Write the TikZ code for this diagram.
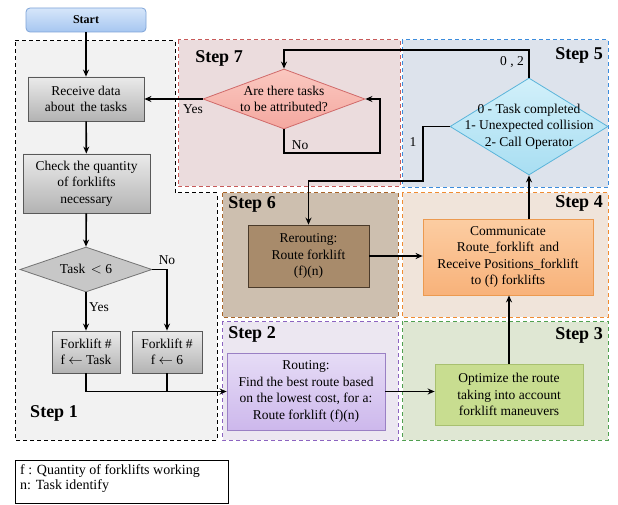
\documentclass[tikz,border=0pt]{standalone}
\usepackage{fontspec}
\setmainfont{Liberation Serif}
\usetikzlibrary{shapes.geometric,arrows.meta}
\definecolor{sonefill}{HTML}{F2F2F2}
\definecolor{ssevfill}{HTML}{EBDCDD}
\definecolor{ssevline}{HTML}{C85A5A}
\definecolor{sfivfill}{HTML}{DDE3EC}
\definecolor{sfivline}{HTML}{3C8CDC}
\definecolor{ssixfill}{HTML}{CDBFAF}
\definecolor{ssixline}{HTML}{A86428}
\definecolor{sfoufill}{HTML}{F0E4DA}
\definecolor{sfouline}{HTML}{F08C32}
\definecolor{stwofill}{HTML}{ECE7F1}
\definecolor{stwoline}{HTML}{8C64C0}
\definecolor{sthrfill}{HTML}{DFE7D3}
\definecolor{sthrline}{HTML}{50A050}
\definecolor{optfill}{HTML}{C8DD90}
\definecolor{optline}{HTML}{A8C070}
\definecolor{rerfill}{HTML}{A88B6B}
\definecolor{rerline}{HTML}{4A3A2A}
\definecolor{commtop}{HTML}{FCCDA2}
\definecolor{commbot}{HTML}{F8B27A}
\definecolor{commline}{HTML}{EC9A50}
\definecolor{routtop}{HTML}{E6DCF6}
\definecolor{routbot}{HTML}{CDB8EC}
\definecolor{routline}{HTML}{9A80C4}
\definecolor{fivtop}{HTML}{D2F0FA}
\definecolor{fivbot}{HTML}{A8DEF2}
\definecolor{fivline}{HTML}{5AB4DA}
\definecolor{sevtop}{HTML}{FAC8C0}
\definecolor{sevbot}{HTML}{F4A8A0}
\definecolor{sevline}{HTML}{D06A6A}
\definecolor{starttop}{HTML}{D6E6FA}
\definecolor{startbot}{HTML}{A6C6F0}
\definecolor{startline}{HTML}{7EA4D8}
\begin{document}
\begin{tikzpicture}[x=1pt,y=-1pt,
  font=\fontsize{13.5}{16.5}\selectfont,
  region/.style={draw=white, line width=1pt, postaction={draw=#1, dash pattern=on 4pt off 3pt, line width=1pt}},
  steplabel/.style={font=\fontsize{18}{20}\selectfont\bfseries, inner sep=0},
  flow/.style={line width=1.6pt, -{Stealth[length=7pt,width=6pt]}},
  plain/.style={line width=1.6pt},
  box/.style={draw, line width=0.8pt, inner sep=0, align=center},
  graybox/.style={box, draw=black!65, top color=black!8, bottom color=black!30},
  dia/.style={diamond, draw, line width=0.8pt, inner sep=0},
  lab/.style={inner sep=1pt}
]
\useasboundingbox (0,0) rectangle (618,505);
\fill[white] (0,0) rectangle (618,505);
% regions
\fill[sonefill] (15,41) -- (175,41) -- (175,193) -- (217,193) -- (217,440) -- (15,440) -- cycle;
\draw[region=black] (15,41) -- (175,41) -- (175,193) -- (217,193) -- (217,440) -- (15,440) -- cycle;
\fill[ssevfill] (178,40) rectangle (400,187);
\draw[region=ssevline] (178,40) rectangle (400,187);
\fill[sfivfill] (402,40) rectangle (608,188);
\draw[region=sfivline] (402,40) rectangle (608,188);
\fill[ssixfill] (222,193) rectangle (398,317);
\draw[region=ssixline] (222,193) rectangle (398,317);
\fill[sfoufill] (402,193) rectangle (608,317);
\draw[region=sfouline] (402,193) rectangle (608,317);
\fill[stwofill] (222,321) rectangle (398,440);
\draw[region=stwoline] (222,321) rectangle (398,440);
\fill[sthrfill] (402,321) rectangle (608,440);
\draw[region=sthrline] (402,321) rectangle (608,440);
% step labels
\node[steplabel] (l1) at (54,413) {Step 1};
\node[steplabel] (l2) at (252,334) {Step 2};
\node[steplabel] (l3) at (579,335) {Step 3};
\node[steplabel] (l4) at (579,203) {Step 4};
\node[steplabel] (l5) at (579,55) {Step 5};
\node[steplabel] (l6) at (252,204) {Step 6};
\node[steplabel] (l7) at (219,58) {Step 7};
% nodes
\node[box, rounded corners=4pt, draw=startline, top color=starttop, bottom color=startbot, minimum width=120, minimum height=24, font=\fontsize{12}{14}\selectfont\bfseries] (start) at (86,20) {Start};
\node[graybox, minimum width=116, minimum height=44] (recv) at (86,99) {Receive data\\about\, the tasks};
\node[graybox, minimum width=127, minimum height=59] (chk) at (86.5,183.5) {Check the quantity\\of forklifts\\necessary};
\node[dia, draw=black!55, fill=black!22, minimum width=132, minimum height=45] (dt) at (86,269.5) {};
\node[inner sep=0] (dtt) at (dt.center) {Task\, $<$ 6};
\node[graybox, minimum width=68, minimum height=42] (f1) at (86,352) {Forklift \#\\f $\leftarrow$ Task};
\node[graybox, minimum width=70, minimum height=42] (f2) at (167,352) {Forklift \#\\f $\leftarrow$ 6};
\node[dia, draw=sevline, top color=sevtop, bottom color=sevbot, minimum width=162, minimum height=60] (d7) at (284,99) {};
\node[inner sep=0, align=center] (d7t) at (d7.center) {Are there tasks\\to be attributed?};
\node[dia, draw=fivline, top color=fivtop, bottom color=fivbot, minimum width=158, minimum height=97] (d5) at (529,126.5) {};
\node[inner sep=0, align=center] (d5t) at (d5.center) {0 - Task completed\\1- Unexpected collision\\2- Call Operator};
\node[box, draw=rerline, fill=rerfill, minimum width=121, minimum height=62] (rer) at (308.5,256) {Rerouting:\\Route forklift\\(f)(n)};
\node[box, draw=commline, top color=commtop, bottom color=commbot, minimum width=170, minimum height=76] (comm) at (508,257) {Communicate\\Route\_forklift\, and\\Receive Positions\_forklift\\to (f) forklifts};
\node[box, draw=routline, top color=routtop, bottom color=routbot, minimum width=158, minimum height=77] (rout) at (306,391.5) {Routing:\\Find the best route based\\on the lowest cost, for a:\\Route forklift (f)(n)};
\node[box, draw=optline, fill=optfill, minimum width=148, minimum height=61] (opt) at (509,394.5) {Optimize the route\\taking into account\\forklift maneuvers};
% legend
\node[draw, line width=0.7pt, minimum width=213, minimum height=43, anchor=north west, inner sep=0] (leg) at (15,460) {};
\node[anchor=north west, align=left, inner sep=0, font=\fontsize{14}{15}\selectfont] (legt) at (20,464) {f : Quantity of forklifts working\\n: Task identify};
% coordinates
\coordinate (t1) at (284,50);
\coordinate (n1) at (380,153);
\coordinate (c1) at (423,181);
% connectors
\draw[flow] (start) -- (recv);
\draw[flow] (recv) -- (chk);
\draw[flow] (chk) -- (dt.north);
\draw[flow] (dt.south) -- (f1.north);
\draw[flow] (dt.east) -| (f2.north);
\draw[flow] (f1.south) |- (rout.west);
\draw[plain] (f2.south) -- (f2.south |- rout.west);
\draw[flow] (rout.east) -- (rout.east -| opt.west);
\draw[flow] (opt.north) -- (opt.north |- comm.south);
\draw[flow] (comm.north -| d5.south) -- (d5.south);
\draw[flow] (d5.north) |- (t1) -- (d7.north);
\draw[flow] (d5.west) -| (c1) -| (rer.north);
\draw[flow] (rer.east) -- (rer.east -| comm.west);
\draw[flow] (d7.west) -- (recv.east);
\draw[flow] (d7.south) |- (n1) |- (d7.east);
% labels
\node[lab] (yes1) at (193,109) {Yes};
\node[lab] (no1) at (300,145) {No};
\node[lab] (o2) at (512,62) {0 , 2};
\node[lab] (one) at (413,142) {1};
\node[lab] (no2) at (167,260) {No};
\node[lab] (yes2) at (99,307) {Yes};
\end{tikzpicture}
\end{document}
